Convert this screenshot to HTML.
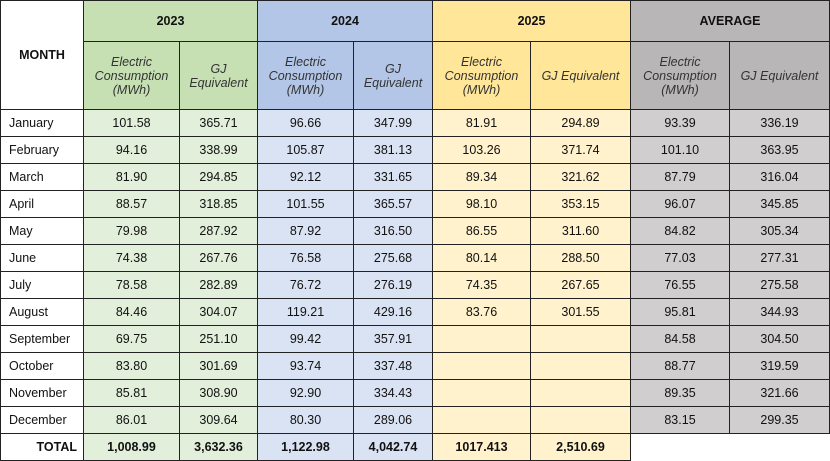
<!DOCTYPE html>
<html><head><meta charset="utf-8"><style>
body{margin:0;width:830px;height:461px;background:#fff;font-family:"Liberation Sans",Arial,sans-serif;position:relative;overflow:hidden}
.c{position:absolute;box-sizing:border-box;border:1px solid #222;display:flex;align-items:center;justify-content:center;text-align:center;font-size:12.5px;color:#111;margin:-1px 0 0 -1px}
.b{font-weight:bold}
.i{font-style:italic;line-height:14px;color:#333;font-size:12.5px}
.l{justify-content:flex-start;padding-left:8px}
.r{justify-content:flex-end;padding-right:6px}
</style></head><body>
<div id="t"></div>
<script>
var xs=[1,84,180,258,354,433,531,631,730,830];
var ys=[1,42,110];for(var k=1;k<=13;k++)ys.push(Math.round(110+k*27));
ys[15]=461;
var hc=['#c6e0b4','#b4c6e7','#ffe699','#b8b6b6'],dc=['#e2efda','#dae3f3','#fff2cc','#d0cece'];
var h='';
function cell(x0,x1,y0,y1,txt,cls,bg){h+='<div class="c '+(cls||'')+'" style="left:'+xs[x0]+'px;width:'+(xs[x1]-xs[x0]+1)+'px;top:'+ys[y0]+'px;height:'+(ys[y1]-ys[y0]+1)+'px;background:'+(bg||'#fff')+'">'+txt+'</div>';}
cell(0,1,0,2,'MONTH','b','#fff');
var yrs=['2023','2024','2025','AVERAGE'];
for(var g=0;g<4;g++){cell(1+2*g,3+2*g,0,1,yrs[g],'b',hc[g]);
cell(1+2*g,2+2*g,1,2,'Electric<br>Consumption<br>(MWh)','i',hc[g]);
cell(2+2*g,3+2*g,1,2,g==3||g==2?'GJ Equivalent':'GJ<br>Equivalent','i',hc[g]);}
var m=['January','February','March','April','May','June','July','August','September','October','November','December'];
var d=[
['101.58','365.71','96.66','347.99','81.91','294.89','93.39','336.19'],
['94.16','338.99','105.87','381.13','103.26','371.74','101.10','363.95'],
['81.90','294.85','92.12','331.65','89.34','321.62','87.79','316.04'],
['88.57','318.85','101.55','365.57','98.10','353.15','96.07','345.85'],
['79.98','287.92','87.92','316.50','86.55','311.60','84.82','305.34'],
['74.38','267.76','76.58','275.68','80.14','288.50','77.03','277.31'],
['78.58','282.89','76.72','276.19','74.35','267.65','76.55','275.58'],
['84.46','304.07','119.21','429.16','83.76','301.55','95.81','344.93'],
['69.75','251.10','99.42','357.91','','','84.58','304.50'],
['83.80','301.69','93.74','337.48','','','88.77','319.59'],
['85.81','308.90','92.90','334.43','','','89.35','321.66'],
['86.01','309.64','80.30','289.06','','','83.15','299.35']];
for(var r=0;r<12;r++){cell(0,1,2+r,3+r,m[r],'l','#fff');
for(var j=0;j<8;j++)cell(1+j,2+j,2+r,3+r,d[r][j],'',dc[Math.floor(j/2)]);}
cell(0,1,14,15,'TOTAL','b r','#fff');
var tt=['1,008.99','3,632.36','1,122.98','4,042.74','1017.413','2,510.69'];
for(var j=0;j<6;j++)cell(1+j,2+j,14,15,tt[j],'b',dc[Math.floor(j/2)]);
document.getElementById('t').innerHTML=h;
</script>
</body></html>
